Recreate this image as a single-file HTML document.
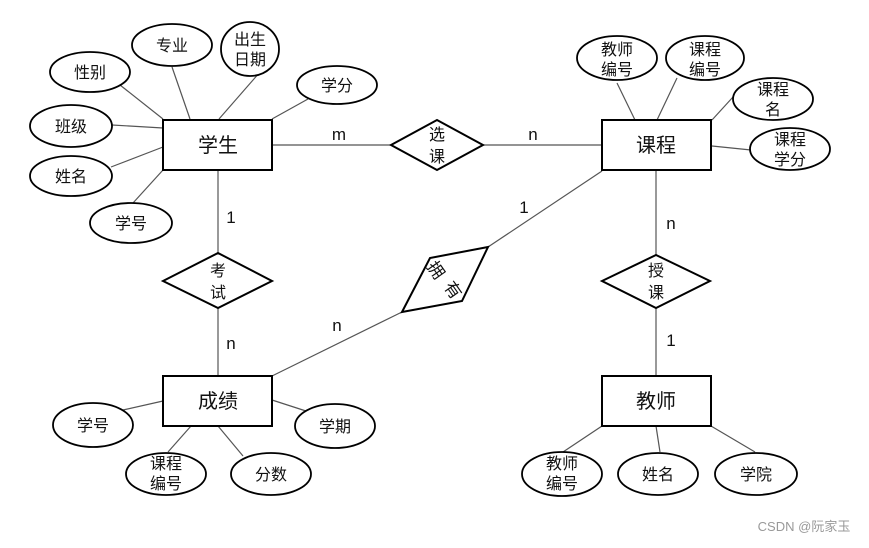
<!DOCTYPE html>
<html><head><meta charset="utf-8"><style>
html,body{margin:0;padding:0;background:#fff;}
svg text{font-family:"Liberation Sans","Noto Sans CJK SC",sans-serif;fill:#111;}
</style></head><body>
<svg width="869" height="543" viewBox="0 0 869 543" xmlns="http://www.w3.org/2000/svg">
<g stroke="#555" stroke-width="1.2" fill="none">
<line x1="120" y1="85" x2="163" y2="119"/>
<line x1="172" y1="67" x2="190" y2="119"/>
<line x1="260" y1="72" x2="219" y2="119"/>
<line x1="308" y1="99" x2="272" y2="119"/>
<line x1="112" y1="125" x2="163" y2="128"/>
<line x1="111" y1="167" x2="163" y2="147"/>
<line x1="133" y1="203" x2="163" y2="170"/>
<line x1="617" y1="83" x2="635" y2="120"/>
<line x1="677" y1="78" x2="657" y2="120"/>
<line x1="733" y1="97" x2="712" y2="120"/>
<line x1="712" y1="146" x2="751" y2="150"/>
<line x1="123" y1="410" x2="163" y2="401"/>
<line x1="168" y1="452" x2="191" y2="426"/>
<line x1="243" y1="456" x2="218" y2="426"/>
<line x1="306" y1="411" x2="272" y2="400"/>
<line x1="563" y1="452" x2="602" y2="426"/>
<line x1="660" y1="452" x2="656" y2="426"/>
<line x1="755" y1="452" x2="711" y2="426"/>
<line x1="272" y1="145" x2="391" y2="145"/>
<line x1="483" y1="145" x2="602" y2="145"/>
<line x1="218" y1="170" x2="218" y2="253"/>
<line x1="218" y1="308" x2="218" y2="376"/>
<line x1="656" y1="170" x2="656" y2="255"/>
<line x1="656" y1="308" x2="656" y2="376"/>
<line x1="602" y1="171" x2="488" y2="247"/>
<line x1="402" y1="312" x2="272" y2="376"/>
</g>
<g stroke="#000" stroke-width="2" fill="#fff">
<rect x="163" y="120" width="109" height="50"/>
<rect x="602" y="120" width="109" height="50"/>
<rect x="163" y="376" width="109" height="50"/>
<rect x="602" y="376" width="109" height="50"/>
<polygon points="391,145 437,120 483,145 437,170"/>
<polygon points="163,281 218,253 272,281 218,308"/>
<polygon points="602,281 656,255 710,281 656,308"/>
<polygon points="402,312 430,258 488,247 462,301"/>
</g>
<g stroke="#000" stroke-width="1.8" fill="#fff">
<ellipse cx="172" cy="45" rx="40" ry="21"/>
<ellipse cx="250" cy="49" rx="29" ry="27"/>
<ellipse cx="90" cy="72" rx="40" ry="20"/>
<ellipse cx="337" cy="85" rx="40" ry="19"/>
<ellipse cx="71" cy="126" rx="41" ry="21"/>
<ellipse cx="71" cy="176" rx="41" ry="20"/>
<ellipse cx="131" cy="223" rx="41" ry="20"/>
<ellipse cx="617" cy="58" rx="40" ry="22"/>
<ellipse cx="705" cy="58" rx="39" ry="22"/>
<ellipse cx="773" cy="99" rx="40" ry="21"/>
<ellipse cx="790" cy="149" rx="40" ry="21"/>
<ellipse cx="93" cy="425" rx="40" ry="22"/>
<ellipse cx="166" cy="474" rx="40" ry="21"/>
<ellipse cx="271" cy="474" rx="40" ry="21"/>
<ellipse cx="335" cy="426" rx="40" ry="22"/>
<ellipse cx="562" cy="474" rx="40" ry="22"/>
<ellipse cx="658" cy="474" rx="40" ry="21"/>
<ellipse cx="756" cy="474" rx="41" ry="21"/>
</g>
<g font-size="20" text-anchor="middle">
<text x="218" y="152">学生</text>
<text x="656" y="152">课程</text>
<text x="218" y="408">成绩</text>
<text x="656" y="408">教师</text>
</g>
<g font-size="16" text-anchor="middle">
<text x="437" y="140">选</text><text x="437" y="162">课</text>
<text x="218" y="276">考</text><text x="218" y="298">试</text>
<text x="656" y="276">授</text><text x="656" y="298">课</text>
</g>
<g font-size="17" text-anchor="middle">
<text x="0" y="6" transform="translate(436,270) rotate(55)">拥</text>
<text x="0" y="6" transform="translate(453,290) rotate(55)">有</text>
</g>
<g font-size="16" text-anchor="middle">
<text x="172" y="51">专业</text>
<text x="250" y="45">出生</text><text x="250" y="65">日期</text>
<text x="90" y="78">性别</text>
<text x="337" y="91">学分</text>
<text x="71" y="132">班级</text>
<text x="71" y="182">姓名</text>
<text x="131" y="229">学号</text>
<text x="617" y="55">教师</text><text x="617" y="75">编号</text>
<text x="705" y="55">课程</text><text x="705" y="75">编号</text>
<text x="773" y="95">课程</text><text x="773" y="115">名</text>
<text x="790" y="145">课程</text><text x="790" y="165">学分</text>
<text x="93" y="431">学号</text>
<text x="166" y="469">课程</text><text x="166" y="489">编号</text>
<text x="271" y="480">分数</text>
<text x="335" y="432">学期</text>
<text x="562" y="469">教师</text><text x="562" y="489">编号</text>
<text x="658" y="480">姓名</text>
<text x="756" y="480">学院</text>
</g>
<g font-size="17" text-anchor="middle">
<text x="339" y="140">m</text>
<text x="533" y="140">n</text>
<text x="231" y="223">1</text>
<text x="231" y="349">n</text>
<text x="524" y="213">1</text>
<text x="337" y="331">n</text>
<text x="671" y="229">n</text>
<text x="671" y="346">1</text>
</g>
<text x="804" y="531" font-size="13" text-anchor="middle" style="fill:#999">CSDN @阮家玉</text>
</svg>
</body></html>
